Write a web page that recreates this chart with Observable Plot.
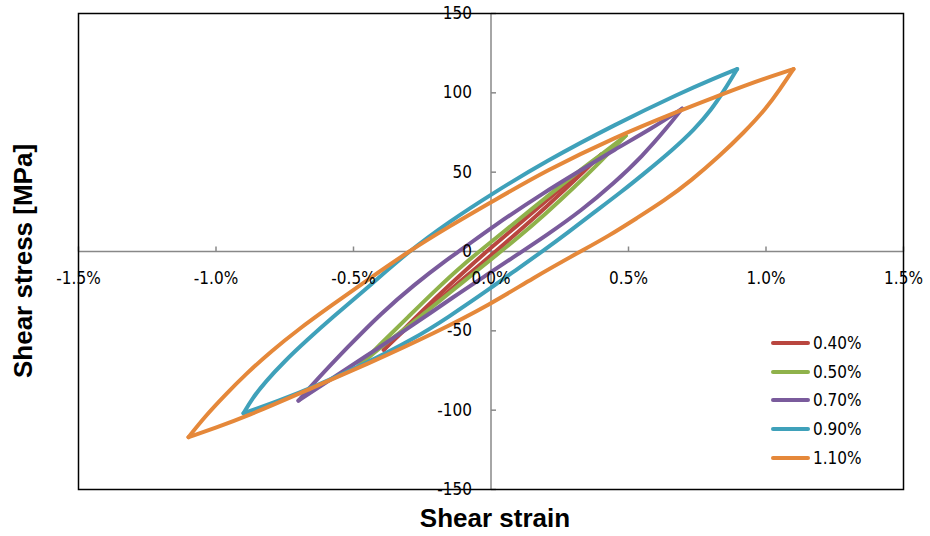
<!DOCTYPE html>
<html>
<head>
<meta charset="utf-8">
<script src="https://cdn.jsdelivr.net/npm/d3@7"></script>
<script src="https://cdn.jsdelivr.net/npm/@observablehq/plot@0.6"></script>
<style>
  html, body { margin: 0; padding: 0; background: #fff; }
  #wrap { position: relative; width: 930px; height: 536px; font-family: "Liberation Sans", Arial, sans-serif; }
  .title { position: absolute; font-weight: bold; font-size: 26px; color: #000; white-space: nowrap; line-height: 1; }
  #legend { position: absolute; left: 771px; top: 329px; font-size: 17px; color: #000; font-family: "DejaVu Sans Condensed", "DejaVu Sans", sans-serif; }
  .row { display: flex; align-items: center; height: 28.6px; }
  .sw { width: 39px; height: 4px; border-radius: 2px; margin-right: 3px; }
</style>
</head>
<body>
<div id="wrap"></div>
<script>
// Series labels and colours
const series = ["0.40%", "0.50%", "0.70%", "0.90%", "1.10%"];
const colors = ["#B9463F", "#8FB24B", "#7A5B9C", "#3FA1BA", "#E5883A"];

// Tick values
const xTicks = [-1.5, -1.0, -0.5, 0, 0.5, 1.0, 1.5];
const yTicks = [-150, -100, -50, 0, 50, 100, 150];

// Loop branches: [shear strain %, shear stress MPa]
const up040 = [[-0.39,-62],[-0.3,-46],[-0.2,-29],[-0.1,-13],[0,2.5],[0.1,17],[0.2,32],[0.3,46.5],[0.40,61]];
const lo040 = [[0.40,61],[0.3,44],[0.2,28],[0.1,12.5],[0,-2.5],[-0.1,-17],[-0.2,-32],[-0.3,-47],[-0.39,-62]];

const up050 = [[-0.48,-72],[-0.40,-58],[-0.30,-41],[-0.20,-24],[-0.10,-8],[0,6],[0.1,20],[0.2,34],[0.3,48],[0.4,61],[0.49,73]];
const lo050 = [[0.49,73],[0.40,57],[0.30,40],[0.20,24],[0.10,9],[0,-5],[-0.10,-19],[-0.20,-33],[-0.30,-47],[-0.40,-60],[-0.48,-72]];

const up070 = [[-0.70,-94],[-0.64,-82],[-0.52,-60],[-0.40,-39],[-0.28,-21],[-0.16,-5],[-0.10,2],[0,15],[0.2,38],[0.325,51],[0.447,64],[0.58,77],[0.695,90]];
const lo070 = [[0.695,90],[0.64,78],[0.55,60],[0.447,43],[0.33,26],[0.2,10],[0.095,-2],[0,-13],[-0.14,-29],[-0.28,-46],[-0.42,-62],[-0.56,-78],[-0.70,-94]];

const up090 = [[-0.90,-102],[-0.87,-93],[-0.82,-82],[-0.75,-69],[-0.67,-56],[-0.58,-42],[-0.45,-23],[-0.30,0],[-0.15,19],[0,36],[0.2,57],[0.45,80],[0.69,100],[0.81,109],[0.895,115]];
const lo090 = [[0.895,115],[0.85,102],[0.80,89],[0.74,77],[0.66,64],[0.57,51],[0.47,37],[0.37,24],[0.28,12],[0.19,0.5],[0.1,-10.5],[0,-23],[-0.16,-42],[-0.28,-55],[-0.46,-71],[-0.64,-85],[-0.77,-94],[-0.90,-102]];

const up110 = [[-1.10,-117],[-1.04,-104],[-0.97,-91],[-0.89,-77],[-0.80,-63],[-0.70,-49],[-0.58,-34],[-0.45,-18],[-0.30,0],[-0.15,16],[0,31],[0.2,51],[0.45,72],[0.69,89],[0.81,97],[0.93,105],[1.03,111],[1.10,115]];
const lo110 = [[1.10,115],[1.05,102],[1.00,90],[0.92,75],[0.83,60],[0.73,45],[0.63,32],[0.53,21],[0.43,10],[0.325,0],[0.15,-17],[0,-33],[-0.2,-51],[-0.45,-71],[-0.69,-89],[-0.89,-104],[-1.0,-111],[-1.10,-117]];

const branches = [[up040, lo040], [up050, lo050], [up070, lo070], [up090, lo090], [up110, lo110]];

const rows = [];
branches.forEach(([up, lo], i) => {
  [["up", up], ["lo", lo]].forEach(([b, pts]) => {
    pts.forEach(([x, y]) => rows.push({series: series[i], branch: series[i] + "-" + b, x, y}));
  });
});

const tickUp = {draw(ctx) { ctx.moveTo(0, 0); ctx.lineTo(0, -5); }};
const tickRight = {draw(ctx) { ctx.moveTo(0, 0); ctx.lineTo(5, 0); }};
const axisGray = "#888888";
const tickFont = '"DejaVu Sans Condensed", "DejaVu Sans", sans-serif';

const chart = Plot.plot({
  width: 930,
  height: 536,
  marginLeft: 78,
  marginRight: 27,
  marginTop: 13,
  marginBottom: 47,
  style: {fontFamily: '"Liberation Sans", Arial, sans-serif', background: "white", overflow: "visible"},
  x: {domain: [-1.5, 1.5], axis: null},
  y: {domain: [-150, 150], axis: null},
  color: {domain: series, range: colors},
  marks: [
    Plot.ruleY([0], {stroke: axisGray, strokeWidth: 1.5}),
    Plot.ruleX([0], {stroke: axisGray, strokeWidth: 1.5}),
    Plot.dot(xTicks, {x: d => d, y: 0, symbol: tickUp, fill: "none", stroke: axisGray, strokeWidth: 1.5}),
    Plot.dot(yTicks, {x: 0, y: d => d, symbol: tickRight, fill: "none", stroke: axisGray, strokeWidth: 1.5}),
    Plot.line(rows, {x: "x", y: "y", z: "branch", stroke: "series", strokeWidth: 4, curve: "basis"}),
    Plot.text(xTicks, {x: d => d, y: 0, text: d => d.toFixed(1) + "%", dy: 27, fontSize: 17, fontFamily: tickFont, fill: "#000"}),
    Plot.text(yTicks, {x: 0, y: d => d, text: d => String(d), textAnchor: "end", dx: -19, fontSize: 17, fontFamily: tickFont, fill: "#000"}),
    Plot.frame({stroke: "#000", strokeWidth: 1.5})
  ]
});

const wrap = document.getElementById("wrap");
wrap.appendChild(chart);

const xt = document.createElement("div");
xt.className = "title";
xt.textContent = "Shear strain";
xt.style.left = "495px"; xt.style.top = "518px";
xt.style.transform = "translate(-50%, -50%)";
wrap.appendChild(xt);

const yt = document.createElement("div");
yt.className = "title";
yt.textContent = "Shear stress [MPa]";
yt.style.left = "23px"; yt.style.top = "261px";
yt.style.transform = "translate(-50%, -50%) rotate(-90deg)";
wrap.appendChild(yt);

const legend = document.createElement("div");
legend.id = "legend";
series.forEach((s, i) => {
  const r = document.createElement("div");
  r.className = "row";
  const sw = document.createElement("span");
  sw.className = "sw";
  sw.style.background = colors[i];
  const t = document.createElement("span");
  t.textContent = s;
  r.appendChild(sw); r.appendChild(t);
  legend.appendChild(r);
});
wrap.appendChild(legend);
</script>
</body>
</html>
